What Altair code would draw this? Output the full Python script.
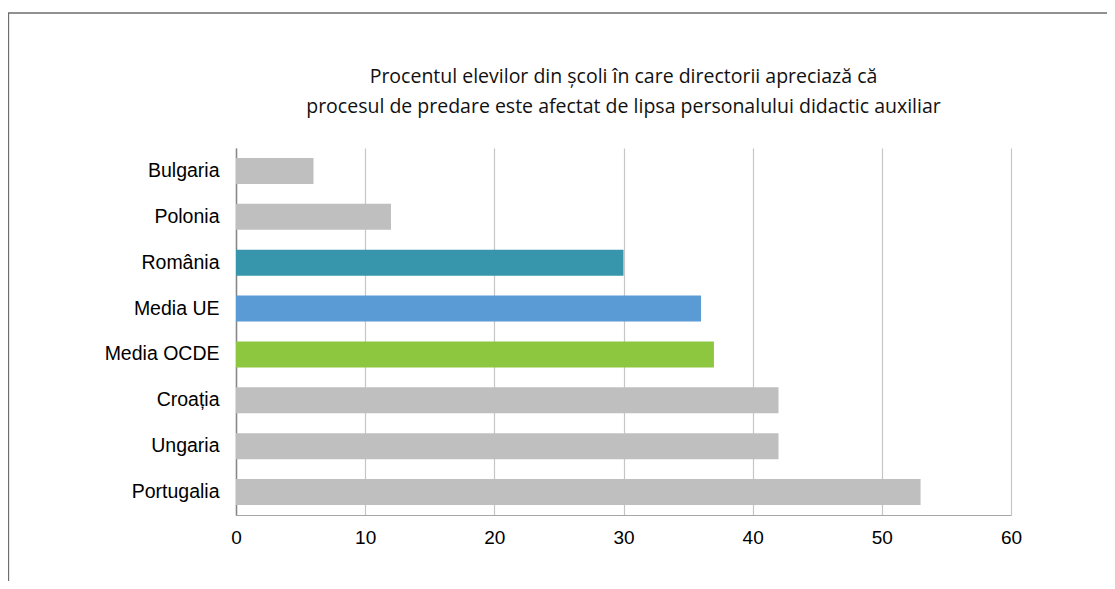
import altair as alt
import pandas as pd

countries = ["Bulgaria", "Polonia", "România", "Media UE", "Media OCDE", "Croația", "Ungaria", "Portugalia"]
values = [6, 12, 30, 36, 37, 42, 42, 53]
colors = ["#BFBFBF", "#BFBFBF", "#3796AB", "#5B9BD5", "#8DC63F", "#BFBFBF", "#BFBFBF", "#BFBFBF"]
x_ticks = [0, 10, 20, 30, 40, 50, 60]
title_lines = [
    "Procentul elevilor din școli în care directorii apreciază că",
    "procesul de predare este afectat de lipsa personalului didactic auxiliar",
]

df = pd.DataFrame({"country": countries, "value": values})

bars = alt.Chart(df).mark_bar().encode(
    y=alt.Y("country:N", sort=countries,
            scale=alt.Scale(paddingInner=0.433, paddingOuter=0.217),
            axis=alt.Axis(title=None, ticks=False, labelFontSize=19.5, labelFont="Liberation Sans",
                          labelColor="#000000", labelPadding=17, domainColor="#868686",
                          domainWidth=1.5, grid=False)),
    x=alt.X("value:Q", scale=alt.Scale(domain=[0, 60], nice=False),
            axis=alt.Axis(title=None, values=x_ticks, ticks=False, labelFontSize=19,
                          labelFont="Liberation Sans", labelColor="#000000", labelPadding=13,
                          labelFlush=False, labelOverlap=False,
                          grid=True, gridColor="#C6C6C6", gridWidth=1.2,
                          domainColor="#A6A6A6", domainWidth=1.2)),
    color=alt.Color("country:N", scale=alt.Scale(domain=countries, range=colors), legend=None),
)

border = alt.Chart(pd.DataFrame({"a": [0]})).mark_rect(
    fill=None, stroke="#6E6E6E", strokeWidth=1.3
).encode(
    x=alt.value(-227.5), x2=alt.value(900), y=alt.value(-135), y2=alt.value(500)
)

title_df = pd.DataFrame({"line": title_lines, "idx": [0, 1]})
title = alt.Chart(title_df).mark_text(
    font="Open Sans", fontSize=19.5, color="#111111", align="center", baseline="middle"
).encode(
    text="line:N",
    x=alt.value(387.5),
    y=alt.Y("idx:Q", scale=alt.Scale(domain=[0, 1], range=[-71, -41]), axis=None),
)

chart = alt.layer(border, title, bars).resolve_scale(y="independent").properties(
    width=775,
    height=367,
    padding={"left": 228, "top": 140, "right": 96, "bottom": 66},
    autosize=alt.AutoSizeParams(type="none"),
).configure_view(stroke=None)

chart.save("out.html", embed_options={"renderer": "svg", "actions": False})
